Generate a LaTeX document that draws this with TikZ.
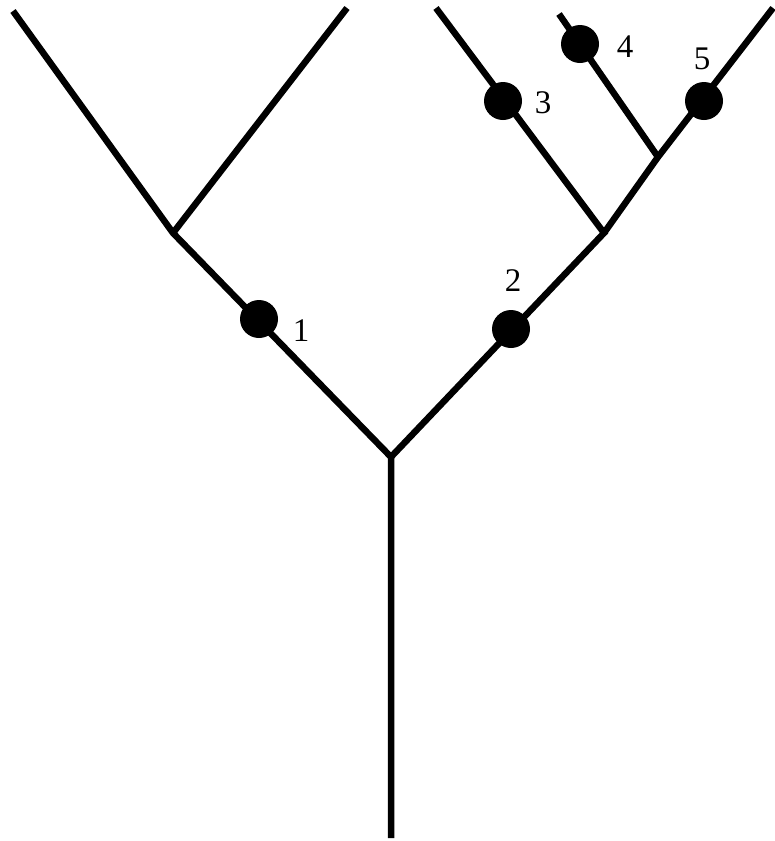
\documentclass[tikz,border=0pt]{standalone}
\usepackage{fontspec}
\setmainfont{Liberation Serif}
\begin{document}
\begin{tikzpicture}[x=1pt,y=-1pt,
  branch/.style={line width=6.5pt},
  dot/.style={circle,fill=black,inner sep=0pt,minimum size=38pt},
  lbl/.style={font=\fontsize{33}{33}\selectfont,inner sep=0pt}]
\useasboundingbox (0,0) rectangle (775,841);
\coordinate (root) at (391,838);
\coordinate (fork) at (391,457);
\coordinate (lf) at (173,233);
\coordinate (lfl) at (13,11);
\coordinate (lfr) at (347,8);
\coordinate (rf) at (604,233);
\coordinate (t3) at (436,8);
\coordinate (rf2) at (658,157);
\coordinate (t4) at (559,14);
\coordinate (t5) at (773,8);
\draw[branch] (root) -- (fork) -- (lf) -- (lfl);
\draw[branch] (lf) -- (lfr);
\draw[branch] (fork) -- (rf) -- (t3);
\draw[branch] (rf) -- (rf2) -- (t5);
\draw[branch] (rf2) -- (t4);
\node[dot] (d1) at (259,319) {};
\node[dot] (d2) at (511,329) {};
\node[dot] (d3) at (503,101) {};
\node[dot] (d4) at (580,44) {};
\node[dot] (d5) at (704,101) {};
\node[lbl] (l1) at (301,331) {1};
\node[lbl] (l2) at (513,281) {2};
\node[lbl] (l3) at (543,103) {3};
\node[lbl] (l4) at (625,47) {4};
\node[lbl] (l5) at (702,59) {5};
\end{tikzpicture}
\end{document}
